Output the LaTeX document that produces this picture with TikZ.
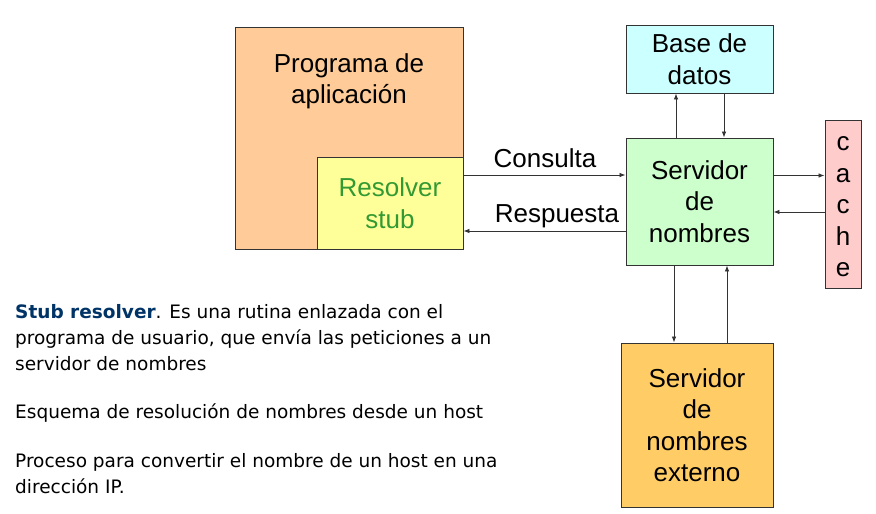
\documentclass[tikz,border=0pt]{standalone}
\usepackage{fontspec}
\setmainfont{Liberation Sans}
\newfontfamily\tahoma{DejaVu Sans}
\usetikzlibrary{arrows.meta,calc}
\definecolor{progc}{HTML}{FFCC99}
\definecolor{stubc}{HTML}{FFFF99}
\definecolor{stubtxt}{HTML}{339933}
\definecolor{basec}{HTML}{CCFFFF}
\definecolor{srvc}{HTML}{CCFFCC}
\definecolor{cachec}{HTML}{FFCCCC}
\definecolor{extc}{HTML}{FFCC66}
\definecolor{bluet}{HTML}{003366}
\definecolor{linec}{HTML}{333333}
\tikzset{
  boxn/.style={draw=linec, line width=0.9pt, inner sep=0pt, align=center,
    font=\fontsize{26}{31.5}\selectfont},
  arr/.style={draw=linec, line width=0.8pt, -{Latex[length=6pt,width=4.5pt]}},
  lbl/.style={inner sep=0pt, font=\fontsize{26}{31.5}\selectfont},
  para/.style={inner sep=0pt, anchor=base west, font=\tahoma\fontsize{18.5}{27}\selectfont}
}
\begin{document}
\begin{tikzpicture}[x=1pt,y=-1pt]
\useasboundingbox (0,0) rectangle (876,514);
% boxes
\node[boxn, fill=progc, minimum width=228pt, minimum height=222pt] (prog) at (349,138) {};
\node[lbl, align=center, anchor=north] (progtxt) at (349,53) {Programa de\\aplicación};
\node[boxn, fill=stubc, text=stubtxt, minimum width=146pt, minimum height=92pt] (stub) at (390,203) {Resolver\\stub};
\node[boxn, fill=basec, minimum width=147pt, minimum height=68pt] (base) at (699.5,59) {Base de\\datos};
\node[boxn, fill=srvc, minimum width=147pt, minimum height=127pt] (srv) at (699.5,201.5) {Servidor\\de\\nombres};
\node[boxn, fill=cachec, minimum width=36pt, minimum height=168pt] (cache) at (843,204) {};
\node[lbl, align=center] (cachetxt) at (843,207) {c\\a\\c\\h\\e};
\node[boxn, fill=extc, minimum width=152pt, minimum height=164pt] (ext) at (697,425) {Servidor\\de\\nombres\\externo};
% connectors
\draw[arr] ([yshift=28pt]stub.east) -- ([yshift=28pt]stub.east -| srv.west);
\draw[arr] ([yshift=-28pt]stub.east -| srv.west) -- ([yshift=-28pt]stub.east);
\node[lbl, anchor=base] (consulta) at (545,167) {Consulta};
\node[lbl, anchor=base] (respuesta) at (557,222) {Respuesta};
\draw[arr] ([xshift=-23.5pt]srv.north) -- ([xshift=-23.5pt]base.south);
\draw[arr] ([xshift=24.5pt]base.south) -- ([xshift=24.5pt]srv.north);
\draw[arr] ([yshift=26pt]srv.east) -- ([yshift=26pt]srv.east -| cache.west);
\draw[arr] ([yshift=-10.5pt]srv.east -| cache.west) -- ([yshift=-10.5pt]srv.east);
\draw[arr] ([xshift=-25.5pt]srv.south) -- ([xshift=-25.5pt]srv.south |- ext.north);
\draw[arr] ([xshift=27.5pt]srv.south |- ext.north) -- ([xshift=27.5pt]srv.south);
% paragraph text
\node[para] (p1) at (15,318) {\textcolor{bluet}{\bfseries Stub resolver}. Es una rutina enlazada con el};
\node[para] (p2) at (15,344) {programa de usuario, que envía las peticiones a un};
\node[para] (p3) at (15,370) {servidor de nombres};
\node[para] (p4) at (15,418) {Esquema de resolución de nombres desde un host};
\node[para] (p5) at (15,467) {Proceso para convertir el nombre de un host en una};
\node[para] (p6) at (15,493) {dirección IP.};
\end{tikzpicture}
\end{document}
